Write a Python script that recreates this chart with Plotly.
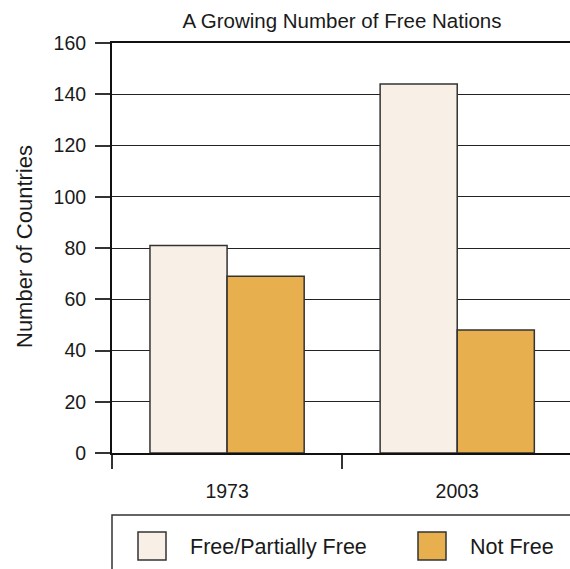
import plotly.graph_objects as go

# Survey years and country counts per freedom status
years = ["1973", "2003"]
series_names = ["Free/Partially Free", "Not Free"]
free_partially_free = [81, 144]
not_free = [69, 48]

colors = ["#F8F0E7", "#E8AF4E"]
outline = "#333333"
sans = "Liberation Sans, Arial, sans-serif"

fig = go.Figure()
for name, vals, col in zip(series_names, [free_partially_free, not_free], colors):
    fig.add_trace(go.Bar(
        x=years, y=vals, name=name,
        marker=dict(color=col, line=dict(color=outline, width=1.5)),
        showlegend=False,
    ))

fig.update_layout(
    width=570, height=569,
    margin=dict(l=112, r=0, t=43, b=116, autoexpand=False),
    paper_bgcolor="white", plot_bgcolor="white",
    barmode="group", bargap=0.33, bargroupgap=0,
    title=dict(text="A Growing Number of Free Nations", x=(342 / 570), xanchor="center",
               y=1 - 21 / 569, yanchor="middle",
               font=dict(family=sans, size=20.5, color="#1a1a1a")),
)

fig.update_xaxes(
    type="category", range=[-0.5, 1.49], automargin=False,
    showline=True, mirror=True, linecolor="#111111", linewidth=2,
    ticks="outside", tickson="boundaries", ticklen=14, tickwidth=1.5, tickcolor="#333333",
    ticklabelstandoff=20,
    tickfont=dict(family=sans, size=19.5, color="#1a1a1a"),
    showgrid=False,
)
fig.update_yaxes(
    range=[0, 160], dtick=20, automargin=False,
    showline=True, linecolor="#111111", linewidth=2,
    ticks="outside", ticklen=15, tickwidth=1.5, tickcolor="#333333",
    ticklabelstandoff=5,
    tickfont=dict(family=sans, size=19.5, color="#1a1a1a"),
    showgrid=True, gridcolor="#222222", gridwidth=1.4, zeroline=False,
)

# Paper-coordinate helpers (plot area spans 112..570 px across, 43..453 px down)
pw, ph = 458.0, 410.0
def px(x):
    return (x - 112) / pw
def py(y):
    return (453 - y) / ph

annotations = [dict(text="Number of Countries", xref="paper", yref="paper",
                    x=px(24), y=py(247), textangle=-90, showarrow=False,
                    xanchor="center", yanchor="middle",
                    font=dict(family=sans, size=22, color="#1a1a1a"))]

# Legend drawn as a framed key below the axis
shapes = [dict(type="rect", xref="paper", yref="paper",
               x0=px(112), x1=px(580), y0=py(515), y1=py(600),
               line=dict(color="#333333", width=1.5), fillcolor="rgba(0,0,0,0)", layer="above")]
for name, col, sx, tx in zip(series_names, colors, [138, 418], [188, 468]):
    shapes.append(dict(type="rect", xref="paper", yref="paper",
                       x0=px(sx), x1=px(sx + 28), y0=py(560), y1=py(532),
                       line=dict(color="#333333", width=1.5), fillcolor=col))
    annotations.append(dict(text=name, xref="paper", yref="paper", x=px(tx), y=py(547),
                            xanchor="left", yanchor="middle", showarrow=False,
                            font=dict(family=sans, size=21.5, color="#1a1a1a")))

fig.update_layout(shapes=shapes, annotations=annotations)
fig.write_html("out.html")
